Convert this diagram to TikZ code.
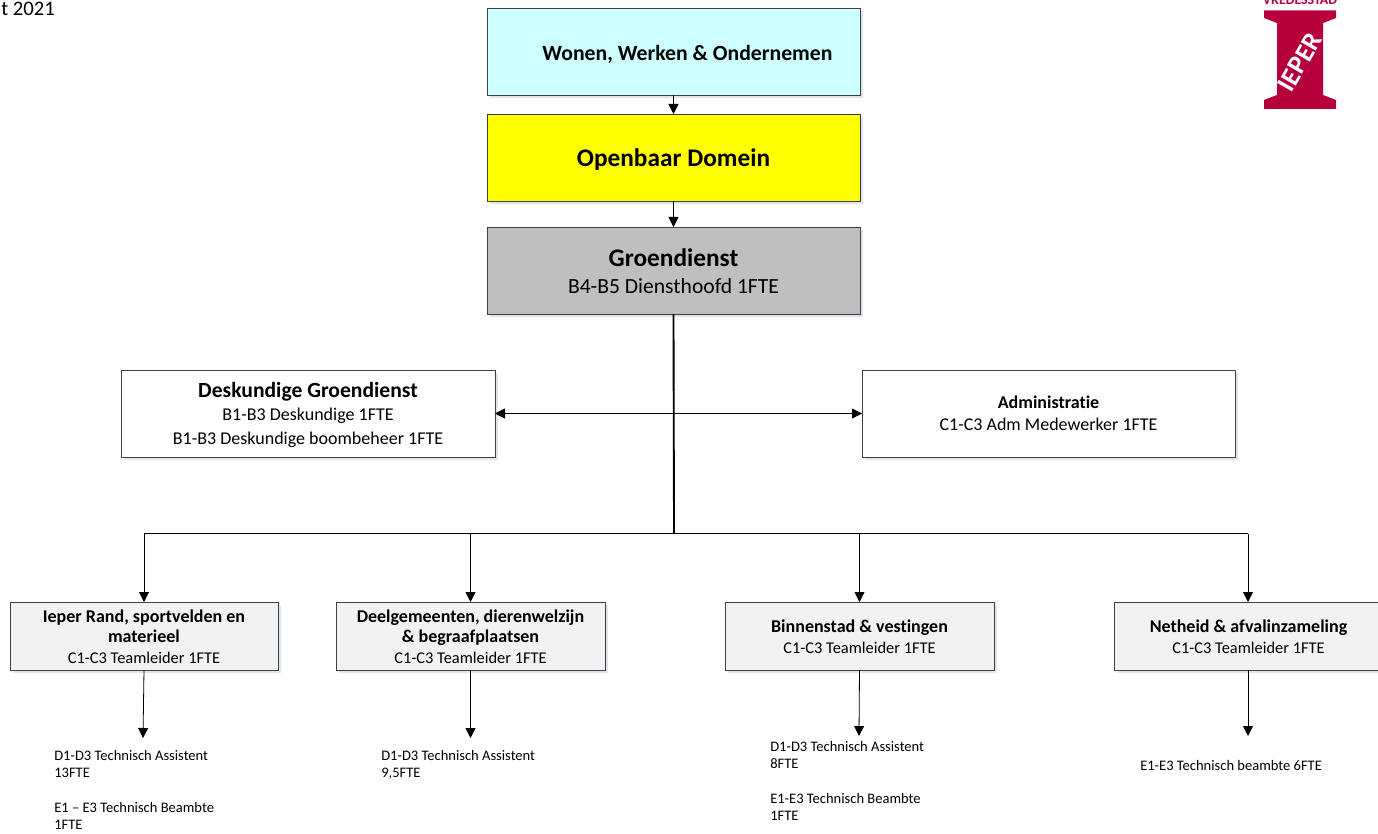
\documentclass[tikz,border=0pt]{standalone}
\usepackage{fontspec}
\setmainfont{Carlito}[Ligatures={NoCommon}]
\usetikzlibrary{arrows.meta,calc}
\definecolor{logored}{HTML}{B5003C}
\definecolor{boxline}{HTML}{3F3F3F}
\definecolor{shad}{HTML}{DDE6F0}
\definecolor{topcyan}{HTML}{CCFFFF}
\definecolor{topyellow}{HTML}{FFFF00}
\definecolor{topgrey}{HTML}{BFBFBF}
\definecolor{teamgrey}{HTML}{F2F2F2}
\tikzset{
  x=0.75pt,y=-0.75pt,
  conn/.style={line width=0.6pt,-{Triangle[length=7.5pt,width=7.5pt]}},
  trunk/.style={line width=1.4pt},
  thinline/.style={line width=0.6pt},
  both/.style={line width=0.6pt,{Triangle[length=7.5pt,width=7.5pt]}-{Triangle[length=7.5pt,width=7.5pt]}},
  small/.style={font=\fontsize{10.9}{13}\selectfont,align=left,anchor=north west,inner sep=0pt},
}
\newcommand{\orgbox}[9]{% name x1 y1 x2 y2 fill textdx textdy text
  \fill[shad] (#2+3,#3+3) rectangle (#4+3,#5+3);
  \draw[boxline,line width=0.7pt,fill=#6] (#2,#3) rectangle (#4,#5);
  \node[inner sep=0pt,align=center] (#1) at ({(#2+#4)/2+#7},{(#3+#5)/2+#8}) {#9};
  \coordinate (#1t) at ({(#2+#4)/2},#3);
  \coordinate (#1b) at ({(#2+#4)/2},#5);
  \coordinate (#1l) at (#2,{(#3+#5)/2});
  \coordinate (#1r) at (#4,{(#3+#5)/2});
}
\newcommand{\fb}{\fontsize{16.2}{17}\selectfont}
\newcommand{\fc}{\fontsize{13.5}{15.5}\selectfont}
\newcommand{\ft}{\fontsize{12.3}{14}\selectfont}
\begin{document}
\begin{tikzpicture}
\useasboundingbox (0,0) rectangle (1378,834);
\clip (0,0) rectangle (1378,834);
\node[inner sep=0pt,anchor=base west,font=\fontsize{15.5}{18}\selectfont] (date) at (1,16) {t 2021};
% logo
\fill[logored] (1264,10.5) -- (1336,10.5) -- (1336,18) -- (1323,23) -- (1323,95) -- (1336,100) -- (1336,109) -- (1264,109) -- (1264,100) -- (1277,95) -- (1277,23) -- (1264,18) -- cycle;
\node[inner sep=0pt,rotate=60,text=white,font=\bfseries\fontsize{20}{20}\selectfont] (logotext) at (1300,62) {IEPER};
\node[inner sep=0pt,anchor=base,text=logored,font=\bfseries\fontsize{10.4}{10}\selectfont] (logotop) at (1300,5) {VREDESSTAD};
% top chain
\orgbox{a}{487}{8}{860}{95}{topcyan}{14}{2.5}{\fontsize{16.3}{18}\selectfont\bfseries Wonen, Werken \& Ondernemen}
\orgbox{b}{487}{114}{860}{201}{topyellow}{0}{2}{\fontsize{19}{20}\selectfont\bfseries Openbaar Domein}
\orgbox{c}{487}{227}{860}{314}{topgrey}{0}{0.5}{{\fontsize{19}{20}\selectfont\bfseries Groendienst}\\[8pt]{\fontsize{16.2}{16}\selectfont B4-B5 Diensthoofd 1FTE}}
\orgbox{d}{121}{370}{495}{457}{white}{0}{1.5}{{\fb\bfseries Deskundige Groendienst}\\[4pt]{\fc B1-B3 Deskundige 1FTE}\\[5.6pt]{\fc B1-B3 Deskundige boombeheer 1FTE}}
\orgbox{e}{862}{370}{1235}{457}{white}{0}{0}{{\fc\bfseries Administratie}\\[4.5pt]{\fc C1-C3 Adm Medewerker 1FTE}}
\orgbox{f}{10}{602}{278}{670}{teamgrey}{0}{0.5}{{\fc\bfseries Ieper Rand, sportvelden en}\\[3.4pt]{\fc\bfseries materieel}\\[3.4pt]{\ft C1-C3 Teamleider 1FTE}}
\orgbox{g}{336}{602}{605}{670}{teamgrey}{0}{0.5}{{\fc\bfseries Deelgemeenten, dierenwelzijn}\\[3.4pt]{\fc\bfseries \& begraafplaatsen}\\[3.4pt]{\ft C1-C3 Teamleider 1FTE}}
\orgbox{h}{725}{602}{994}{670}{teamgrey}{0}{0.5}{{\fc\bfseries Binnenstad \& vestingen}\\[3.4pt]{\ft C1-C3 Teamleider 1FTE}}
\orgbox{i}{1114}{602}{1383}{670}{teamgrey}{0}{0.5}{{\fc\bfseries Netheid \& afvalinzameling}\\[3.4pt]{\ft C1-C3 Teamleider 1FTE}}
% small texts
\node[small] (t1) at (54,750) {D1-D3 Technisch Assistent\\13FTE\\[13pt]E1 – E3 Technisch Beambte\\1FTE};
\node[small] (t2) at (381,750) {D1-D3 Technisch Assistent\\9,5FTE};
\node[small] (t3) at (770,741) {D1-D3 Technisch Assistent\\8FTE\\[13pt]E1-E3 Technisch Beambte\\1FTE};
\node[small] (t4) at (1140,760) {E1-E3 Technisch beambte 6FTE};
% connector anchors
\coordinate (j2) at (674,533.5);
\coordinate (f2) at (143,738);
\coordinate (g2) at (470.5,738);
\coordinate (h2) at (859,736);
\coordinate (i2) at (1248,736);
\coordinate (i0) at (1248,533.5);
\coordinate (i1) at (1248,602);
\coordinate (i3) at (1248,670);
% connectors
\draw[conn] (ab) -- (bt);
\draw[conn] (bb) -- (ct);
\draw[trunk] (cb) -- (j2);
\draw[both] (dr) -- (el);
\draw[thinline] (ft |- j2) -- (i0);
\draw[conn] (ft |- j2) -- (ft);
\draw[conn] (gt |- j2) -- (gt);
\draw[conn] (ht |- j2) -- (ht);
\draw[conn] (i0) -- (i1);
\draw[conn] (fb) -- (f2);
\draw[conn] (gb) -- (g2);
\draw[conn] (hb) -- (h2);
\draw[conn] (i3) -- (i2);
\end{tikzpicture}
\end{document}
